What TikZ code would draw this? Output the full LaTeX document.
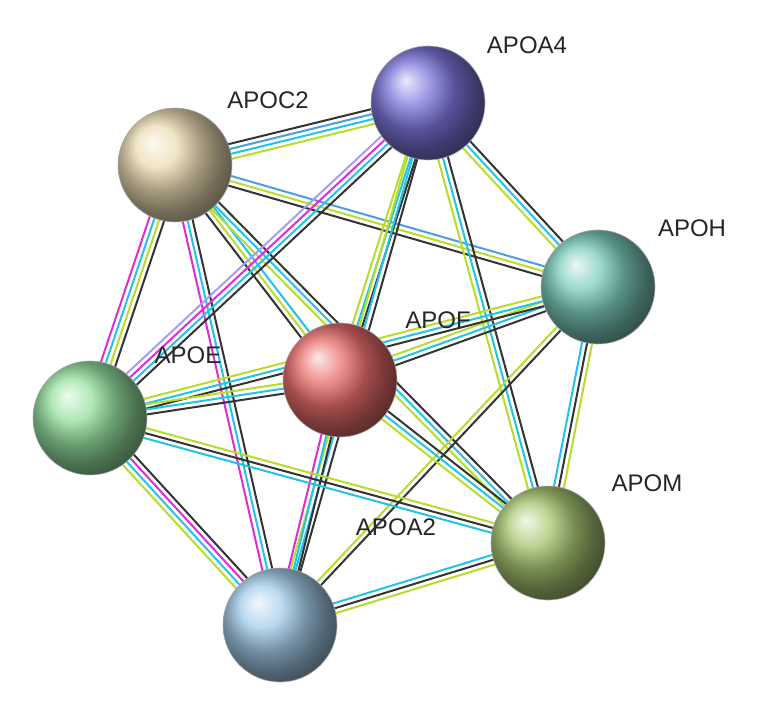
\documentclass[tikz,border=0pt]{standalone}
\usepackage{fontspec}
\setmainfont{Liberation Sans}
\usetikzlibrary{calc,shadings}
\definecolor{ek}{HTML}{333333}
\definecolor{ec}{HTML}{22C4E6}
\definecolor{eb}{HTML}{4A9FE0}
\definecolor{ey}{HTML}{B8DC2A}
\definecolor{em}{HTML}{E22AD8}
\definecolor{ep}{HTML}{A79CF0}
\tikzset{prot/.style={circle,minimum size=114pt,inner sep=0pt,draw=black!35,line width=0.6pt},
lab/.style={font=\fontsize{24}{28}\selectfont,text=black!85}}
\newcommand{\edgeX}[3]{\foreach \c/\o in {#3}{\draw[\c,line width=2pt] ($(#1)!\o pt!90:(#2)$) -- ($(#2)!\o pt!-90:(#1)$);}}
\begin{document}
\begin{tikzpicture}[x=1pt,y=-1pt]
\useasboundingbox (0,0) rectangle (783,708);
\coordinate (c2) at (175,165);
\coordinate (a4) at (428,103);
\coordinate (h) at (598,287);
\coordinate (f) at (340,380);
\coordinate (e) at (90,418);
\coordinate (m) at (548,543);
\coordinate (a2) at (280,625);
\edgeX{c2}{a4}{ey/-7.5,ec/-2.5,eb/2.5,ek/7.5}
\edgeX{c2}{h}{ek/-5,ey/0,eb/5}
\edgeX{c2}{f}{ek/-5,ey/0,ec/5}
\edgeX{c2}{e}{em/-7.5,ec/-2.5,ey/2.5,ek/7.5}
\edgeX{c2}{a2}{em/-5,ec/0,ek/5}
\edgeX{c2}{m}{ey/-5,ec/0,ek/5}
\edgeX{a4}{h}{ey/-5,ec/0,ek/5}
\edgeX{a4}{f}{ey/-5,ec/0,ek/5}
\edgeX{a4}{e}{ep/-7.5,em/-2.5,ec/2.5,ek/7.5}
\edgeX{a4}{a2}{ey/-5,ec/0,ek/5}
\edgeX{a4}{m}{ey/-5,ec/0,ek/5}
\edgeX{h}{f}{ey/-5,ec/0,ek/5}
\edgeX{h}{e}{ey/-5,ec/0,ek/5}
\edgeX{h}{m}{ec/-5,ek/0,ey/5}
\edgeX{h}{a2}{ey/-2.5,ek/2.5}
\edgeX{f}{e}{ey/-5,ec/0,ek/5}
\edgeX{f}{m}{ey/-5,ec/0,ek/5}
\edgeX{f}{a2}{em/-5,ec/0,ek/5}
\edgeX{e}{m}{ec/-5,ek/0,ey/5}
\edgeX{e}{a2}{ey/-7.5,ec/-2.5,em/2.5,ek/7.5}
\edgeX{m}{a2}{ec/-5,ek/0,ey/5}
\node[prot,ball color={rgb,255:red,236;green,220;blue,180}] (C2) at (c2) {};
\node[prot,ball color={rgb,255:red,125;green,118;blue,220}] (A4) at (a4) {};
\node[prot,ball color={rgb,255:red,125;green,205;blue,190}] (H) at (h) {};
\node[prot,ball color={rgb,255:red,235;green,110;blue,110}] (F) at (f) {};
\node[prot,ball color={rgb,255:red,150;green,225;blue,160}] (E) at (e) {};
\node[prot,ball color={rgb,255:red,170;green,200;blue,115}] (M) at (m) {};
\node[prot,ball color={rgb,255:red,165;green,205;blue,235}] (A2) at (a2) {};
\node[lab] (lA4) at (527,45) {APOA4};
\node[lab] (lC2) at (268,100) {APOC2};
\node[lab] (lH) at (692,228) {APOH};
\node[lab] (lF) at (438,320) {APOF};
\node[lab] (lE) at (188,355) {APOE};
\node[lab] (lM) at (647,483) {APOM};
\node[lab] (lA2) at (396,527) {APOA2};
\end{tikzpicture}
\end{document}
